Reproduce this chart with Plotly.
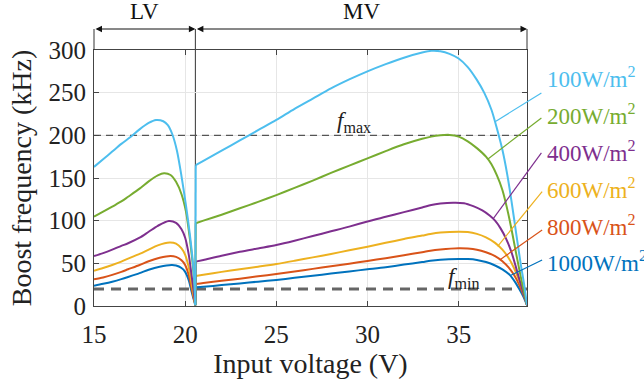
import plotly.graph_objects as go

# ---------------- data ----------------
irradiance_labels = ["100W/m<sup>2</sup>", "200W/m<sup>2</sup>", "400W/m<sup>2</sup>",
                     "600W/m<sup>2</sup>", "800W/m<sup>2</sup>", "1000W/m<sup>2</sup>"]
colors = ["#4DBEEE", "#77AC30", "#7E2F8E", "#EDB120", "#D95319", "#0072BD"]

# LV region (15 V .. 20.56 V)
lv_x_100 = [15, 15.5, 16, 16.5, 17, 17.5, 18, 18.4, 18.8, 19.05, 19.3, 19.55, 19.8, 20.05, 20.25, 20.42, 20.5, 20.56]
lv_f_100 = [163, 172, 181, 190, 198, 207, 214.5, 218, 216.5, 212, 201, 182, 152, 117, 85, 52, 30, 1]

lv_x_200 = [15, 15.5, 16, 16.5, 16.87, 17.5, 18, 18.5, 18.84, 19.2, 19.5, 19.8, 20.05, 20.25, 20.42, 20.5, 20.56]
lv_f_200 = [104.7, 110.5, 116.5, 122.5, 128, 137.5, 146, 153, 155.5, 153.5, 145.5, 131, 110, 80, 48, 28, 1]

lv_x_400 = [15, 15.5, 16, 16.5, 16.87, 17.5, 18, 18.5, 19.1, 19.5, 19.8, 20.0, 20.2, 20.34, 20.45, 20.56]
lv_f_400 = [58.6, 62, 66, 70.5, 73.5, 80, 87, 94, 99.6, 97.5, 90, 80, 60, 38, 20, 1]

lv_x_600 = [15, 15.5, 16, 16.5, 16.87, 17.5, 18, 18.5, 19.15, 19.5, 19.8, 20.0, 20.2, 20.34, 20.45, 20.56]
lv_f_600 = [41.4, 44.5, 48, 52, 55.5, 61, 66, 71, 74.3, 73, 67.5, 60, 45, 28, 14, 1]

lv_x_800 = [15, 15.5, 16, 16.5, 16.87, 17.5, 18, 18.6, 19.2, 19.5, 19.8, 20.0, 20.2, 20.34, 20.45, 20.56]
lv_f_800 = [31.3, 33.5, 36.5, 40, 43, 48, 52.5, 56.5, 58.6, 57.5, 53.5, 48, 36, 22, 11, 1]

lv_x_1000 = [15, 15.5, 16, 16.5, 16.87, 17.5, 18, 18.6, 19.25, 19.5, 19.8, 20.0, 20.2, 20.34, 20.45, 20.56]
lv_f_1000 = [23.8, 26, 28.5, 31.5, 34, 38.5, 42.5, 46, 48, 47.5, 44.5, 40, 30, 18, 9, 1]

# MV region (20.58 V .. 38.75 V)
mv_x_100 = [20.58, 21, 22, 23, 24, 25, 26, 27, 28, 29, 30, 31, 32, 33, 33.5, 34, 34.5, 35, 35.5, 36, 36.4, 36.8, 37.1, 37.4, 37.65, 37.9, 38.15, 38.4, 38.6, 38.75]
mv_f_100 = [165, 170, 182, 194, 206, 218, 231, 243, 255, 265.5, 275, 283.5, 291, 297, 299, 298.5, 295.5, 290, 280, 265, 250, 230, 208, 183, 156, 123, 86, 50, 24, 1]

mv_x_200 = [20.58, 21, 22, 23, 24, 25, 26, 27, 28, 29, 30, 31, 32, 33, 33.5, 34, 34.5, 35, 35.5, 36, 36.5, 36.8, 37.1, 37.4, 37.65, 37.9, 38.15, 38.4, 38.6, 38.75]
mv_f_200 = [97, 100, 107, 114.5, 122, 130, 138.5, 147, 156, 164.5, 173, 181.5, 189.5, 196, 198.5, 200, 200.5, 198.5, 193, 185, 175, 166, 153, 136, 115, 90, 62, 35, 15, 1]

mv_x_400 = [20.58, 21, 22, 23, 24, 25, 26, 27, 28, 29, 30, 31, 32, 33, 33.5, 34, 34.7, 35.3, 35.8, 36.3, 36.7, 37.0, 37.3, 37.6, 37.9, 38.15, 38.4, 38.6, 38.75]
mv_f_400 = [52, 54, 59, 63.5, 67.5, 71.5, 76.5, 82, 87.5, 93, 99, 104.5, 110, 115.5, 118.4, 120, 121, 120.5, 117, 112, 106, 100, 91, 79, 63, 45, 26, 12, 1]

mv_x_600 = [20.58, 21, 22, 23, 24, 25, 26, 27, 28, 29, 30, 31, 32, 33, 33.45, 34, 35, 35.5, 36, 36.5, 37.0, 37.4, 37.75, 38.05, 38.3, 38.5, 38.65, 38.75]
mv_f_600 = [35.2, 36.5, 40, 43, 46, 49.2, 53, 57, 61, 65.3, 69.5, 74, 78.5, 82.5, 84.4, 86, 87.1, 86.7, 84.5, 80.5, 74, 66, 56, 44, 31, 19, 9, 1]

mv_x_800 = [20.58, 21, 22, 23, 24, 25, 26, 27, 28, 29, 30, 31, 32, 33, 33.45, 34, 35, 35.5, 36, 36.5, 37.0, 37.4, 37.75, 38.05, 38.3, 38.5, 38.65, 38.75]
mv_f_800 = [25.8, 27, 29.5, 32, 34.8, 37.5, 40.3, 43.5, 46.5, 49.5, 52.8, 56, 59.5, 63, 64.8, 66.2, 67.6, 67.3, 66, 63, 58.5, 52.5, 45, 36, 26, 16, 8, 1]

mv_x_1000 = [20.58, 21, 22, 23, 24, 25, 26, 27, 28, 29, 30, 31, 32, 33, 33.45, 34, 35, 35.5, 36, 36.5, 37.0, 37.4, 37.8, 38.1, 38.35, 38.55, 38.75]
mv_f_1000 = [21.9, 22.5, 24.5, 26.5, 28.5, 30.5, 33, 35.5, 38, 40.5, 43, 45.5, 48.5, 51.5, 53.1, 54.3, 55.1, 55, 54, 51.5, 47.5, 43, 36.5, 28, 19, 11, 1]

# leader lines: (curve x, curve f) -> (label end x, label end f)
leader_start_x = [37.0, 36.61, 36.89, 37.14, 37.29, 37.84]
leader_start_f = [216, 172.3, 102, 70, 54.5, 35.8]
leader_end_x = [39.54, 39.54, 39.54, 39.58, 39.58, 39.58]
leader_end_f = [249.7, 220.4, 179.4, 134, 89.1, 53.9]
label_f = [267.3, 223.9, 180.5, 137.2, 93.8, 51.6]

f_max = 200
f_min = 20
x_range = [15, 38.75]
y_range = [0, 300]
x_ticks = [15, 20, 25, 30, 35]
y_ticks = [0, 50, 100, 150, 200, 250, 300]
lv_mv_boundary = 20.56

FONT = "Liberation Serif"

# ---------------- figure ----------------
fig = go.Figure()

lv_x = [lv_x_100, lv_x_200, lv_x_400, lv_x_600, lv_x_800, lv_x_1000]
lv_f = [lv_f_100, lv_f_200, lv_f_400, lv_f_600, lv_f_800, lv_f_1000]
mv_x = [mv_x_100, mv_x_200, mv_x_400, mv_x_600, mv_x_800, mv_x_1000]
mv_f = [mv_f_100, mv_f_200, mv_f_400, mv_f_600, mv_f_800, mv_f_1000]

# dashed limit lines
fig.add_trace(go.Scatter(x=x_range, y=[f_max, f_max], mode="lines",
                         line=dict(color="#555555", width=1.2, dash="7px,5px"),
                         showlegend=False, hoverinfo="skip"))
fig.add_trace(go.Scatter(x=x_range, y=[f_min, f_min], mode="lines",
                         line=dict(color="#666666", width=3, dash="10px,7px"),
                         showlegend=False, hoverinfo="skip"))

# draw from 1000 W up to 100 W so the light-blue curve ends on top
for i in reversed(range(6)):
    style = dict(color=colors[i], width=2, shape="spline", smoothing=0.8)
    fig.add_trace(go.Scatter(x=lv_x[i], y=lv_f[i], mode="lines", line=style,
                             showlegend=False, hoverinfo="skip"))
    # vertical jump at the LV/MV transition
    fig.add_trace(go.Scatter(x=[lv_x[i][-1], mv_x[i][0]], y=[lv_f[i][-1], mv_f[i][0]],
                             mode="lines", line=dict(color=colors[i], width=2),
                             showlegend=False, hoverinfo="skip"))
    fig.add_trace(go.Scatter(x=mv_x[i], y=mv_f[i], mode="lines", line=style,
                             showlegend=False, hoverinfo="skip"))


def to_px(x):
    return (x - x_range[0]) / (x_range[1] - x_range[0])


def to_py(y):
    return (y - y_range[0]) / (y_range[1] - y_range[0])


shapes = []
annotations = []
for i in range(6):
    shapes.append(dict(type="line", xref="paper", yref="paper",
                       x0=to_px(leader_start_x[i]), y0=to_py(leader_start_f[i]),
                       x1=to_px(leader_end_x[i]), y1=to_py(leader_end_f[i]),
                       line=dict(color=colors[i], width=1.2)))
    annotations.append(dict(text=irradiance_labels[i], xref="paper", yref="y",
                            x=1.041, y=label_f[i], xanchor="left", yanchor="middle",
                            showarrow=False, font=dict(family=FONT, size=23, color=colors[i])))

ARROW_Y = 1.082
# vertical guide lines of the LV / MV bands
shapes.append(dict(type="line", xref="paper", yref="paper", x0=0, x1=0, y0=1, y1=ARROW_Y,
                   line=dict(color="#333333", width=1)))
shapes.append(dict(type="line", xref="paper", yref="paper", x0=1, x1=1, y0=1, y1=ARROW_Y,
                   line=dict(color="#333333", width=1)))
shapes.append(dict(type="line", xref="x", yref="paper", x0=lv_mv_boundary, x1=lv_mv_boundary,
                   y0=0, y1=ARROW_Y, line=dict(color="#333333", width=1), layer="below"))

# double arrows
annotations.append(dict(x=lv_mv_boundary, y=ARROW_Y, xref="x", yref="paper",
                        ax=x_range[0], ay=0, axref="x", ayref="pixel", text="",
                        showarrow=True, arrowhead=2, arrowside="end+start",
                        arrowsize=1.3, arrowwidth=1, arrowcolor="#111111"))
annotations.append(dict(x=x_range[1], y=ARROW_Y, xref="x", yref="paper",
                        ax=lv_mv_boundary, ay=0, axref="x", ayref="pixel", text="",
                        showarrow=True, arrowhead=2, arrowside="end+start",
                        arrowsize=1.3, arrowwidth=1, arrowcolor="#111111"))
annotations.append(dict(text="LV", x=(x_range[0] + lv_mv_boundary) / 2, y=ARROW_Y + 0.01,
                        xref="x", yref="paper", yanchor="bottom", showarrow=False,
                        font=dict(family=FONT, size=23, color="#111111")))
annotations.append(dict(text="MV", x=(lv_mv_boundary + x_range[1]) / 2, y=ARROW_Y + 0.01,
                        xref="x", yref="paper", yanchor="bottom", showarrow=False,
                        font=dict(family=FONT, size=23, color="#111111")))

# f_max / f_min labels
annotations.append(dict(text="<i>f</i><sub>max</sub>", x=29.27, y=215.7, xref="x", yref="y",
                        showarrow=False, font=dict(family=FONT, size=23, color="#222222")))
annotations.append(dict(text="<i>f</i><sub>min</sub>", x=35.26, y=32.8, xref="x", yref="y",
                        showarrow=False, font=dict(family=FONT, size=23, color="#222222")))

axis_common = dict(showgrid=True, gridcolor="#E6E6E6", gridwidth=1,
                   showline=True, linecolor="#444444", linewidth=1, mirror="ticks",
                   ticks="inside", ticklen=5, tickcolor="#444444",
                   zeroline=False, tickfont=dict(family=FONT, size=25, color="#222222"))

fig.update_layout(
    width=644, height=383,
    margin=dict(l=94, r=117, t=50, b=77, autoexpand=False),
    paper_bgcolor="white", plot_bgcolor="white",
    xaxis=dict(range=x_range, tickvals=x_ticks, ticklabelstandoff=6, **axis_common,
               title=dict(text="Input voltage (V)", standoff=2,
                          font=dict(family=FONT, size=28, color="#222222"))),
    yaxis=dict(range=y_range, tickvals=y_ticks, ticklabelstandoff=2, **axis_common,
               title=dict(text="Boost frequency (kHz)", standoff=8,
                          font=dict(family=FONT, size=28, color="#222222"))),
    shapes=shapes,
    annotations=annotations,
    showlegend=False,
)

fig.write_html("out.html", config={"displayModeBar": False},
               post_script="document.body.style.margin='0';document.body.style.padding='0';")
